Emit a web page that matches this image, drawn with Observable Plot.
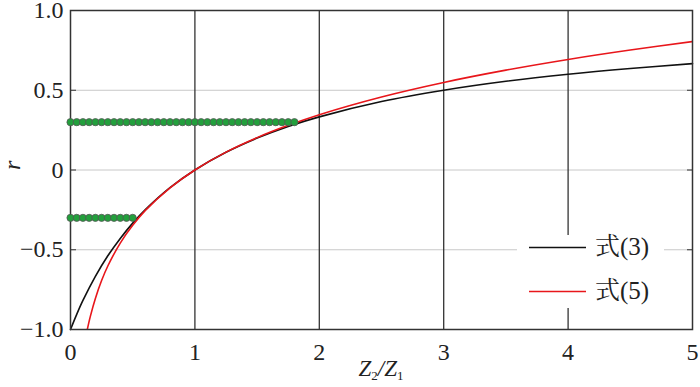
<!DOCTYPE html>
<html>
<head>
<meta charset="utf-8">
<script src="https://cdn.jsdelivr.net/npm/d3@7"></script>
<script src="https://cdn.jsdelivr.net/npm/@observablehq/plot@0.6"></script>
<style>
  html, body { margin: 0; padding: 0; background: #fff; }
  #wrap { position: relative; width: 700px; height: 387px; font-family: "Liberation Serif", "Noto Serif CJK SC", "Noto Sans CJK SC", serif; color: #222; }
  #legend { position: absolute; left: 517px; top: 235px; width: 147px; height: 73px; background: #fff; }
  .lg-row { position: absolute; left: 0; height: 30px; width: 147px; }
  .lg-row svg { position: absolute; left: 12px; top: 14px; }
  .lg-text { position: absolute; left: 78px; font-size: 25px; line-height: 30px; top: 0; }
  #xlabel { position: absolute; top: 356px; left: 0; width: 762px; text-align: center; font-size: 23px; line-height: 26px; font-style: italic; }
  #xlabel sub { font-size: 13px; font-style: normal; vertical-align: -4px; line-height: 0; }
</style>
</head>
<body>
<div id="wrap"></div>
<script>
// Series
const xEq3 = [0, 0.05, 0.1, 0.2, 0.3, 0.4, 0.5, 0.6, 0.8, 1, 1.25, 1.5, 1.75, 2, 2.5, 3, 3.5, 4, 4.5, 5];
const yEq3 = [-1, -0.905, -0.818, -0.667, -0.538, -0.429, -0.333, -0.25, -0.111, 0, 0.111, 0.2, 0.273, 0.333, 0.429, 0.5, 0.556, 0.6, 0.636, 0.667];
const xEq5 = [0.135, 0.16, 0.2, 0.25, 0.3, 0.4, 0.5, 0.6, 0.8, 1, 1.25, 1.5, 1.75, 2, 2.5, 3, 3.5, 4, 4.5, 5];
const yEq5 = [-1.0, -0.916, -0.805, -0.693, -0.602, -0.458, -0.347, -0.255, -0.112, 0, 0.112, 0.203, 0.28, 0.347, 0.458, 0.549, 0.626, 0.693, 0.752, 0.805];
const dotsUpperX = [0, 0.05, 0.1, 0.15, 0.2, 0.25, 0.3, 0.35, 0.4, 0.45, 0.5, 0.55, 0.6, 0.65, 0.7, 0.75, 0.8, 0.85, 0.9, 0.95, 1, 1.05, 1.1, 1.15, 1.2, 1.25, 1.3, 1.35, 1.4, 1.45, 1.5, 1.55, 1.6, 1.65, 1.7, 1.75, 1.8];
const dotsUpperY = 0.3;
const dotsLowerX = [0, 0.05, 0.1, 0.15, 0.2, 0.25, 0.3, 0.35, 0.4, 0.45, 0.5];
const dotsLowerY = -0.3;
const xTicks = [0, 1, 2, 3, 4, 5];
const yTicks = [-1, -0.5, 0, 0.5, 1];
const seriesNames = ["式(3)", "式(5)"];
const seriesColors = ["#111111", "#e8161b"];

const eq3 = xEq3.map((x, i) => ({x, y: yEq3[i]}));
const eq5 = xEq5.map((x, i) => ({x, y: yEq5[i]}));
const dots = [
  ...dotsUpperX.map(x => ({x, y: dotsUpperY})),
  ...dotsLowerX.map(x => ({x, y: dotsLowerY}))
];
const fmtY = d => d === 0 ? "0" : d.toFixed(1).replace("-", "−");
const fmtX = d => String(d);
const serif = '"Liberation Serif", serif';

const chart = Plot.plot({
  width: 700,
  height: 387,
  marginLeft: 70,
  marginRight: 8,
  marginTop: 10,
  marginBottom: 58,
  style: {fontFamily: serif, fontSize: "24px", background: "#fff", color: "#222", overflow: "visible"},
  x: {domain: [0, 5], ticks: xTicks},
  y: {domain: [-1, 1], ticks: yTicks},
  marks: [
    Plot.gridY(yTicks.filter(d => d > -1 && d < 1), {stroke: "#c8c8c8", strokeOpacity: 1, strokeWidth: 1}),
    Plot.gridX(xTicks.filter(d => d > 0 && d < 5), {stroke: "#333", strokeOpacity: 1, strokeWidth: 1.3}),
    Plot.axisX({ticks: xTicks, tickSize: 0, tickPadding: 13, tickFormat: fmtX, label: null, fontSize: 24, fontFamily: serif}),
    Plot.axisY({ticks: yTicks, tickSize: 0, tickPadding: 7, tickFormat: fmtY, label: null, fontSize: 24, fontFamily: serif}),
    Plot.axisY({ticks: yTicks, tickSize: 6, dx: 6, text: null, label: null, stroke: "#333"}),
    Plot.axisY({anchor: "right", ticks: yTicks, tickSize: 6, dx: -6, text: null, label: null, stroke: "#333"}),
    Plot.line(eq3, {x: "x", y: "y", stroke: seriesColors[0], strokeWidth: 1.6, curve: "catmull-rom"}),
    Plot.line(eq5, {x: "x", y: "y", stroke: seriesColors[1], strokeWidth: 1.6, curve: "catmull-rom", clip: true}),
    Plot.frame({stroke: "#333", strokeWidth: 1.5}),
    Plot.dot(dots, {x: "x", y: "y", r: 3.6, fill: "#22a03c", stroke: "#555", strokeWidth: 0.8}),
    Plot.text(["r"], {frameAnchor: "left", dx: -58, rotate: -90, fontStyle: "italic", fontSize: 24, fontFamily: serif, text: d => d})
  ]
});

const wrap = document.getElementById("wrap");
wrap.appendChild(chart);

const legend = document.createElement("div");
legend.id = "legend";
seriesNames.forEach((name, i) => {
  const row = document.createElement("div");
  row.className = "lg-row";
  row.style.top = (i === 0 ? -3 : 41) + "px";
  row.innerHTML = `<svg width="58" height="4"><line x1="0" x2="57" y1="1.5" y2="1.5" stroke="${seriesColors[i]}" stroke-width="1.3"/></svg>`;
  const tx = document.createElement("div");
  tx.className = "lg-text";
  tx.textContent = name;
  row.appendChild(tx);
  legend.appendChild(row);
});
wrap.appendChild(legend);

const xl = document.createElement("div");
xl.id = "xlabel";
xl.innerHTML = 'Z<sub>2</sub>/Z<sub>1</sub>';
wrap.appendChild(xl);
</script>
</body>
</html>
